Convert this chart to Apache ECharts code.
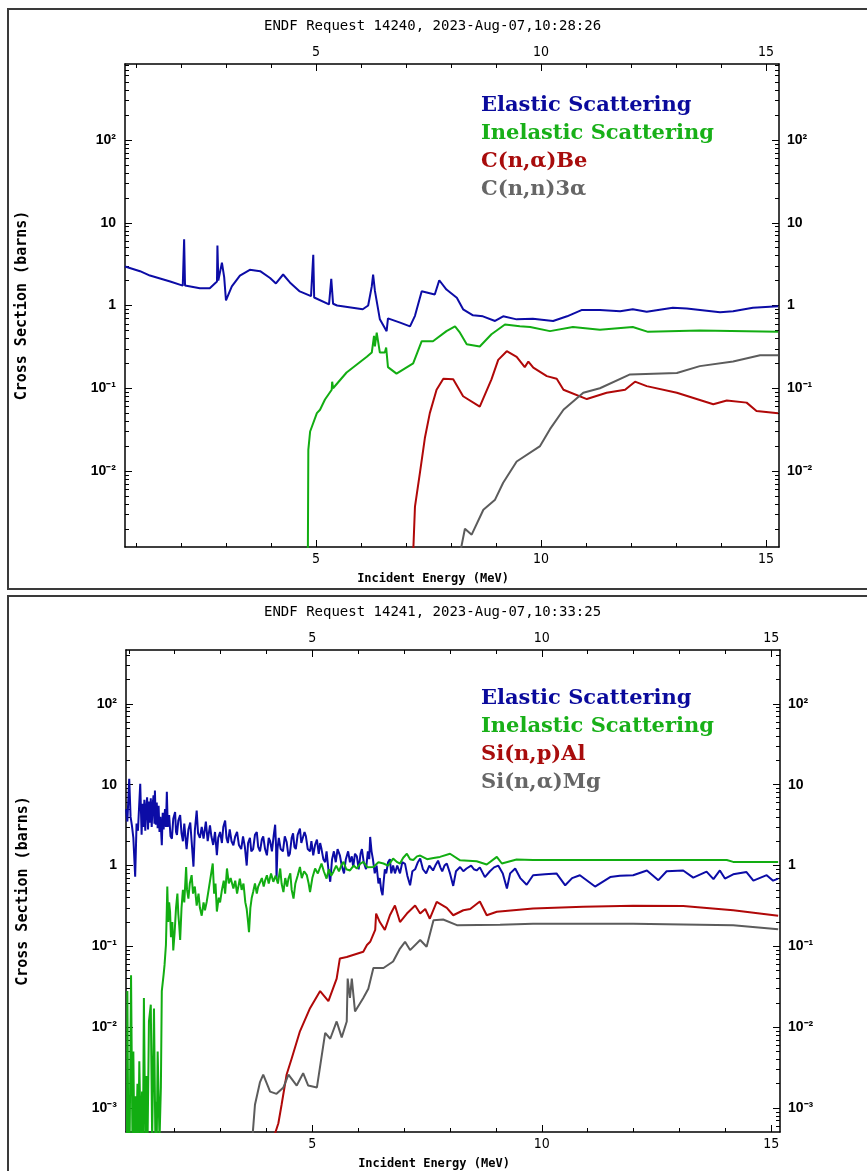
<!DOCTYPE html>
<html><head><meta charset="utf-8">
<script src="https://cdn.jsdelivr.net/npm/echarts@6/dist/echarts.min.js"></script>
<style>html,body{margin:0;padding:0;background:#fff}#c{width:867px;height:1171px}</style>
</head><body><div id="c"></div><script>
// ---------- Panel 1 : Carbon (ENDF Request 14240) ----------
const p1Title = 'ENDF Request 14240, 2023-Aug-07,10:28:26';
const p1Names = ['Elastic Scattering', 'Inelastic Scattering', 'C(n,α)Be', 'C(n,n)3α'];
const p1Elastic = [[0.756,2.96],[1.09,2.6],[1.31,2.3],[1.76,1.95],[2.04,1.74],[2.07,6.3],[2.09,1.75],[2.42,1.62],[2.64,1.62],[2.80,1.95],[2.81,5.3],[2.83,2.0],[2.91,3.3],[2.96,2.2],[3.0,1.15],[3.13,1.7],[3.31,2.3],[3.53,2.7],[3.76,2.6],[3.98,2.15],[4.11,1.85],[4.27,2.37],[4.42,1.9],[4.64,1.48],[4.89,1.3],[4.93,1.25],[4.94,4.1],[4.96,1.25],[5.29,1.03],[5.33,1.0],[5.34,2.1],[5.38,1.05],[5.47,1.0],[6.04,0.9],[6.16,1.0],[6.24,1.7],[6.27,2.37],[6.31,1.5],[6.42,0.68],[6.57,0.49],[6.6,0.7],[6.64,0.72],[6.87,0.62],[7.09,0.56],[7.2,0.75],[7.35,1.49],[7.64,1.36],[7.74,2.02],[7.9,1.56],[8.13,1.24],[8.27,0.9],[8.49,0.76],[8.71,0.74],[8.98,0.65],[9.16,0.74],[9.46,0.68],[9.82,0.69],[10.27,0.65],[10.58,0.74],[10.9,0.88],[11.31,0.88],[11.76,0.85],[12.04,0.9],[12.35,0.84],[12.93,0.94],[13.24,0.92],[13.98,0.83],[14.27,0.85],[14.71,0.94],[15.27,0.98]];
const p1Inelastic = [[4.82,0.001],[4.83,0.018],[4.87,0.030],[5.02,0.050],[5.09,0.055],[5.2,0.073],[5.35,0.096],[5.36,0.12],[5.38,0.10],[5.68,0.155],[6.13,0.24],[6.24,0.27],[6.29,0.43],[6.31,0.32],[6.35,0.47],[6.42,0.27],[6.53,0.27],[6.56,0.31],[6.6,0.18],[6.79,0.15],[7.16,0.20],[7.35,0.37],[7.6,0.37],[7.9,0.49],[8.09,0.56],[8.2,0.47],[8.35,0.34],[8.64,0.32],[8.9,0.45],[9.2,0.59],[9.53,0.56],[9.76,0.55],[10.2,0.49],[10.71,0.55],[11.31,0.51],[12.04,0.55],[12.38,0.48],[13.53,0.50],[15.27,0.48]];
const p1NAlpha = [[7.16,0.001],[7.2,0.0037],[7.31,0.0095],[7.42,0.025],[7.53,0.050],[7.68,0.096],[7.83,0.13],[8.05,0.128],[8.27,0.080],[8.64,0.060],[8.9,0.128],[9.05,0.22],[9.24,0.28],[9.46,0.24],[9.64,0.18],[9.72,0.21],[9.83,0.177],[10.13,0.14],[10.35,0.13],[10.5,0.096],[11.02,0.074],[11.46,0.088],[11.87,0.096],[12.09,0.12],[12.35,0.106],[13.02,0.088],[13.83,0.064],[14.13,0.071],[14.57,0.067],[14.79,0.053],[15.27,0.050]];
const p1N3Alpha = [[8.2,0.001],[8.31,0.0020],[8.46,0.0017],[8.72,0.0034],[8.98,0.0045],[9.16,0.0072],[9.46,0.013],[9.98,0.020],[10.2,0.032],[10.5,0.055],[10.94,0.088],[11.31,0.10],[11.98,0.147],[13.02,0.153],[13.53,0.185],[14.27,0.21],[14.87,0.25],[15.27,0.25]];

// ---------- Panel 2 : Silicon (ENDF Request 14241) ----------
const p2Title = 'ENDF Request 14241, 2023-Aug-07,10:33:25';
const p2Names = ['Elastic Scattering', 'Inelastic Scattering', 'Si(n,p)Al', 'Si(n,α)Mg'];
const p2Elastic = [[0.94,5.0],[0.97,3.5],[1.01,11.8],[1.04,4.0],[1.07,3.1],[1.10,2.2],[1.14,0.73],[1.17,3.3],[1.20,2.7],[1.25,10.3],[1.28,2.4],[1.30,5.8],[1.32,3.0],[1.34,6.5],[1.36,2.7],[1.38,5.2],[1.40,7.0],[1.42,2.8],[1.44,6.2],[1.46,3.4],[1.48,6.8],[1.50,3.0],[1.52,5.6],[1.54,7.4],[1.56,3.3],[1.57,8.5],[1.59,3.2],[1.61,6.0],[1.63,2.9],[1.65,5.5],[1.67,2.6],[1.69,4.0],[1.72,1.78],[1.74,4.5],[1.76,2.8],[1.79,5.0],[1.81,3.0],[1.83,8.2],[1.85,3.0],[1.88,4.2],[1.91,2.3],[1.94,2.15],[1.97,3.8],[2.01,4.6],[2.03,2.6],[2.05,2.4],[2.08,3.6],[2.12,4.2],[2.15,2.5],[2.18,2.0],[2.21,3.3],[2.24,2.1],[2.26,1.6],[2.30,2.8],[2.34,3.4],[2.37,2.0],[2.41,0.97],[2.44,2.7],[2.48,4.8],[2.51,2.5],[2.55,2.2],[2.59,3.0],[2.63,2.15],[2.68,3.5],[2.72,2.0],[2.77,3.15],[2.80,2.3],[2.84,1.8],[2.88,2.6],[2.92,1.34],[2.95,2.2],[2.99,2.6],[3.03,1.9],[3.06,3.0],[3.10,3.6],[3.13,2.2],[3.16,1.9],[3.20,2.8],[3.24,2.0],[3.28,1.78],[3.32,2.3],[3.36,2.6],[3.40,1.8],[3.45,1.6],[3.49,2.3],[3.53,1.7],[3.57,1.0],[3.60,1.9],[3.64,2.2],[3.67,1.5],[3.71,1.6],[3.75,2.4],[3.79,2.6],[3.82,1.7],[3.86,1.5],[3.90,2.1],[3.93,2.3],[3.97,1.6],[4.01,1.34],[4.05,2.2],[4.08,2.0],[4.12,1.5],[4.16,2.4],[4.19,3.2],[4.21,1.7],[4.22,0.69],[4.24,1.6],[4.27,2.2],[4.31,1.6],[4.36,1.5],[4.40,2.3],[4.44,1.96],[4.48,1.3],[4.51,1.4],[4.55,2.2],[4.58,2.5],[4.61,1.7],[4.64,1.6],[4.68,2.4],[4.73,2.86],[4.76,1.9],[4.80,1.8],[4.83,2.6],[4.86,2.3],[4.90,1.6],[4.95,1.5],[4.98,2.0],[5.02,1.34],[5.06,1.8],[5.10,2.1],[5.14,1.4],[5.17,1.9],[5.20,1.6],[5.24,1.2],[5.28,1.1],[5.31,1.5],[5.35,0.9],[5.39,0.63],[5.43,1.2],[5.47,1.5],[5.51,1.1],[5.55,1.6],[5.60,1.34],[5.64,1.0],[5.69,0.8],[5.73,1.2],[5.78,1.5],[5.82,1.1],[5.86,1.3],[5.89,0.96],[5.93,1.4],[5.97,1.3],[6.01,0.9],[6.05,1.4],[6.08,1.6],[6.12,1.1],[6.17,0.9],[6.21,1.5],[6.24,1.2],[6.26,2.26],[6.29,1.5],[6.32,1.2],[6.36,0.8],[6.40,1.0],[6.44,0.6],[6.47,0.7],[6.50,0.5],[6.53,0.43],[6.55,0.6],[6.58,0.9],[6.61,0.8],[6.65,1.1],[6.69,1.2],[6.72,0.8],[6.76,1.0],[6.80,0.8],[6.85,1.0],[6.91,0.8],[6.96,1.1],[7.02,1.05],[7.07,0.75],[7.13,0.57],[7.18,0.85],[7.24,0.9],[7.30,1.1],[7.35,1.22],[7.41,0.9],[7.48,0.8],[7.55,1.0],[7.63,0.87],[7.68,1.0],[7.74,1.15],[7.79,0.95],[7.83,0.85],[7.88,1.0],[7.93,1.06],[8.0,0.8],[8.07,0.56],[8.13,0.85],[8.22,0.96],[8.29,0.85],[8.36,0.92],[8.46,1.0],[8.52,0.9],[8.58,0.87],[8.65,0.95],[8.76,0.72],[8.87,0.85],[8.96,0.95],[9.05,1.0],[9.15,0.8],[9.24,0.52],[9.31,0.8],[9.42,0.92],[9.53,0.7],[9.67,0.58],[9.81,0.76],[10.07,0.78],[10.32,0.80],[10.51,0.57],[10.66,0.7],[10.83,0.76],[11.16,0.55],[11.49,0.72],[11.7,0.75],[11.99,0.76],[12.29,0.87],[12.54,0.66],[12.72,0.85],[13.08,0.87],[13.30,0.71],[13.59,0.84],[13.74,0.68],[13.88,0.87],[13.99,0.69],[14.17,0.78],[14.46,0.83],[14.61,0.65],[14.90,0.76],[15.04,0.65],[15.15,0.69]];
const p2Inelastic = [[0.96,0.0003],[0.97,0.028],[0.99,0.0004],[1.01,0.0012],[1.02,0.0004],[1.05,0.044],[1.08,0.0004],[1.10,0.005],[1.12,0.0004],[1.14,0.0014],[1.16,0.0004],[1.19,0.002],[1.21,0.0004],[1.23,0.0038],[1.26,0.0004],[1.29,0.0016],[1.31,0.0004],[1.33,0.023],[1.36,0.0004],[1.39,0.0025],[1.41,0.0004],[1.44,0.0118],[1.48,0.019],[1.51,0.0004],[1.55,0.017],[1.58,0.0004],[1.60,0.0012],[1.61,0.0004],[1.63,0.005],[1.67,0.0004],[1.70,0.0018],[1.72,0.028],[1.76,0.045],[1.78,0.059],[1.81,0.104],[1.83,0.3],[1.84,0.55],[1.86,0.2],[1.88,0.35],[1.90,0.27],[1.92,0.13],[1.95,0.2],[1.97,0.089],[2.0,0.15],[2.03,0.3],[2.06,0.45],[2.08,0.25],[2.10,0.18],[2.12,0.12],[2.15,0.3],[2.18,0.5],[2.21,0.35],[2.25,0.96],[2.27,0.5],[2.30,0.39],[2.33,0.6],[2.37,0.76],[2.40,0.45],[2.44,0.55],[2.48,0.32],[2.52,0.45],[2.55,0.3],[2.59,0.24],[2.63,0.35],[2.66,0.28],[2.70,0.36],[2.74,0.5],[2.78,0.7],[2.83,1.06],[2.86,0.45],[2.89,0.6],[2.92,0.27],[2.96,0.4],[2.99,0.35],[3.03,0.50],[3.07,0.65],[3.10,0.45],[3.14,0.92],[3.18,0.6],[3.22,0.7],[3.28,0.52],[3.32,0.65],[3.36,0.45],[3.42,0.69],[3.46,0.5],[3.50,0.6],[3.54,0.35],[3.57,0.29],[3.60,0.2],[3.62,0.15],[3.65,0.3],[3.68,0.4],[3.71,0.47],[3.75,0.6],[3.79,0.45],[3.82,0.55],[3.86,0.52],[3.90,0.7],[3.94,0.55],[3.97,0.65],[4.01,0.76],[4.05,0.6],[4.10,0.8],[4.15,0.63],[4.20,0.75],[4.25,0.6],[4.30,0.92],[4.33,0.6],[4.37,0.47],[4.41,0.7],[4.45,0.55],[4.48,0.69],[4.52,0.8],[4.55,0.5],[4.59,0.39],[4.63,0.6],[4.68,0.75],[4.73,0.96],[4.77,0.7],[4.82,0.85],[4.88,0.76],[4.92,0.6],[4.95,0.47],[5.0,0.7],[5.06,0.92],[5.12,0.8],[5.20,1.06],[5.25,0.85],[5.31,0.69],[5.36,0.9],[5.41,0.75],[5.46,0.84],[5.52,1.0],[5.58,0.85],[5.63,1.0],[5.68,1.11],[5.74,0.9],[5.82,0.87],[5.9,1.0],[5.97,0.92],[6.04,1.05],[6.11,1.11],[6.2,0.95],[6.33,0.96],[6.44,1.1],[6.55,1.06],[6.65,1.0],[6.76,1.22],[6.85,1.1],[6.91,1.06],[6.98,1.25],[7.06,1.4],[7.13,1.2],[7.20,1.17],[7.28,1.3],[7.35,1.33],[7.5,1.2],[7.64,1.24],[7.78,1.28],[8.0,1.4],[8.22,1.16],[8.58,1.13],[8.80,1.03],[9.02,1.28],[9.13,1.06],[9.45,1.19],[9.81,1.17],[14.03,1.17],[14.17,1.11],[15.15,1.11]];
const p2NP = [[4.14,0.0004],[4.26,0.00065],[4.33,0.0011],[4.44,0.0026],[4.55,0.0041],[4.73,0.0089],[4.95,0.0172],[5.17,0.028],[5.35,0.021],[5.53,0.040],[5.60,0.071],[5.75,0.074],[6.11,0.086],[6.19,0.104],[6.26,0.114],[6.37,0.16],[6.39,0.255],[6.47,0.20],[6.58,0.16],[6.69,0.243],[6.80,0.32],[6.91,0.2],[7.06,0.255],[7.24,0.32],[7.35,0.255],[7.46,0.29],[7.56,0.22],[7.71,0.355],[7.93,0.3],[8.07,0.243],[8.29,0.28],[8.44,0.29],[8.65,0.36],[8.80,0.243],[9.02,0.268],[9.81,0.295],[10.90,0.31],[11.99,0.318],[13.08,0.315],[14.17,0.28],[15.15,0.24]];
const p2NAlpha = [[3.69,0.0004],[3.75,0.0011],[3.86,0.0021],[3.93,0.0026],[4.08,0.0016],[4.22,0.0015],[4.37,0.0018],[4.48,0.0026],[4.66,0.0019],[4.80,0.0027],[4.91,0.0019],[5.10,0.0018],[5.28,0.0085],[5.39,0.0072],[5.53,0.0118],[5.64,0.0075],[5.75,0.0118],[5.77,0.040],[5.82,0.023],[5.86,0.04],[5.93,0.0157],[6.11,0.023],[6.22,0.030],[6.26,0.037],[6.33,0.054],[6.55,0.054],[6.76,0.065],[6.91,0.094],[7.02,0.114],[7.13,0.09],[7.35,0.12],[7.49,0.099],[7.64,0.21],[7.85,0.215],[8.15,0.183],[9.09,0.185],[9.81,0.19],[11.99,0.19],[14.17,0.183],[15.15,0.163]];

// ---------- axes / ticks ----------
const p1XRange = [0.756, 15.29];
const p2XRange = [0.94, 15.19];
const p1YRange = [0.001205, 830];
const p2YRange = [0.000506, 464];
const xMajor = [5, 10, 15];
const xMinor = [1,2,3,4,5,6,7,8,9,10,11,12,13,14,15];
const p1YMajor = [0.01, 0.1, 1, 10, 100];
const p2YMajor = [0.001, 0.01, 0.1, 1, 10, 100];
const yLabelText = {'-3':'10⁻³','-2':'10⁻²','-1':'10⁻¹','0':'1','1':'10','2':'10²'};
const decades = [0.0001, 0.001, 0.01, 0.1, 1, 10, 100];
const minorMult = [2,3,4,5,6,7,8,9];
const yMinor = [];
decades.forEach(d => minorMult.forEach(m => yMinor.push(+(d*m).toPrecision(3))));

const colors = ['#0c0ca6', '#12ad12', '#b00808', '#5c5c5c'];
const legendColors = ['#0a0a9c', '#18b018', '#a80c0c', '#666666'];

const monoFont = '"DejaVu Sans Mono", monospace';
const narrowFont = '"DejaVu Sans Condensed", "DejaVu Sans Mono", sans-serif';

function xAx(grid, pos, range, ticks, len, labels, lineShow, name) {
  return {
    type: 'value', gridIndex: grid, position: pos, min: range[0], max: range[1],
    axisLine: { show: lineShow, onZero: false, lineStyle: { color: '#000', width: 1.5 } },
    axisTick: { show: true, inside: true, length: len, customValues: ticks, lineStyle: { color: '#000', width: 1 } },
    axisLabel: labels ? { show: true, customValues: labels, margin: 5, color: '#000', fontFamily: narrowFont, fontSize: 14,
      formatter: v => String(Math.round(v)) } : { show: false },
    splitLine: { show: false },
    name: name || '', nameLocation: 'middle', nameGap: 26,
    nameTextStyle: { fontFamily: monoFont, fontWeight: 'bold', fontSize: 12, color: '#000', padding: [0, 38, 0, 0] }
  };
}
function yAx(grid, pos, range, ticks, len, labels, lineShow, name) {
  return {
    type: 'log', logBase: 10, gridIndex: grid, position: pos, min: range[0], max: range[1],
    axisLine: { show: lineShow, onZero: false, lineStyle: { color: '#000', width: 1.5 } },
    axisTick: { show: true, inside: true, length: len, customValues: ticks, lineStyle: { color: '#000', width: 1 } },
    axisLabel: labels ? { show: true, customValues: labels, margin: pos === 'left' ? 9 : 8, color: '#000',
      fontFamily: '"Liberation Sans", Arial, sans-serif', fontWeight: 'bold', fontSize: 14,
      formatter: v => yLabelText[String(Math.round(Math.log10(v)))] || '' } : { show: false },
    splitLine: { show: false },
    name: name || '', nameLocation: 'middle', nameGap: 95,
    nameTextStyle: { fontFamily: monoFont, fontWeight: 'bold', fontSize: 15, color: '#000' }
  };
}

const xAxes = [], yAxes = [];
[[p1XRange, p1YRange, p1YMajor], [p2XRange, p2YRange, p2YMajor]].forEach((cfg, g) => {
  const [xr, yr, ym] = cfg;
  xAxes.push(xAx(g, 'bottom', xr, xMajor, 7, xMajor, true, 'Incident Energy (MeV)'));
  xAxes.push(xAx(g, 'bottom', xr, xMinor, 4, null, false));
  xAxes.push(xAx(g, 'top', xr, xMajor, 7, xMajor, true));
  xAxes.push(xAx(g, 'top', xr, xMinor, 4, null, false));
  yAxes.push(yAx(g, 'left', yr, ym, 7, ym, true, 'Cross Section (barns)'));
  yAxes.push(yAx(g, 'left', yr, yMinor, 4, null, false));
  yAxes.push(yAx(g, 'right', yr, ym, 7, ym, true));
  yAxes.push(yAx(g, 'right', yr, yMinor, 4, null, false));
});

function line(name, data, idx, g) {
  return { type: 'line', name, data, xAxisIndex: g*4, yAxisIndex: g*4, showSymbol: false, symbol: 'none',
    clip: true, animation: false, silent: true,
    lineStyle: { color: colors[idx], width: 2 }, itemStyle: { color: colors[idx] } };
}
const series = [
  line(p1Names[0], p1Elastic, 0, 0), line(p1Names[1], p1Inelastic, 1, 0),
  line(p1Names[2], p1NAlpha, 2, 0), line(p1Names[3], p1N3Alpha, 3, 0),
  line(p2Names[0], p2Elastic, 0, 1), line(p2Names[1], p2Inelastic, 1, 1),
  line(p2Names[2], p2NP, 2, 1), line(p2Names[3], p2NAlpha, 3, 1)
];

function legend(names, top) {
  return { orient: 'vertical', left: 471, top, icon: 'none', itemWidth: 0, itemHeight: 10, itemGap: 0,
    selectedMode: false,
    textStyle: { fontFamily: '"DejaVu Serif", serif', fontWeight: 'bold', fontSize: 21, lineHeight: 28 },
    data: names.map((n, i) => ({ name: n, textStyle: { color: legendColors[i] } })) };
}

const titleStyle = { fontFamily: monoFont, fontWeight: 'normal', fontSize: 14, color: '#000' };
const chart = echarts.init(document.getElementById('c'), null, { renderer: 'canvas' });
chart.setOption({
  backgroundColor: '#fff',
  animation: false,
  title: [
    { text: p1Title, left: 259, top: 14, textStyle: titleStyle },
    { text: p2Title, left: 259, top: 600, textStyle: titleStyle }
  ],
  grid: [
    { left: 125, top: 64, width: 654, height: 483 },
    { left: 126, top: 650, width: 654, height: 483 }
  ],
  legend: [legend(p1Names, 87), legend(p2Names, 680)],
  xAxis: xAxes,
  yAxis: yAxes,
  series,
  graphic: [
    { type: 'rect', shape: { x: 8, y: 9, width: 880, height: 580 }, style: { fill: null, stroke: '#3a3a3a', lineWidth: 2 }, silent: true },
    { type: 'rect', shape: { x: 8, y: 596, width: 880, height: 600 }, style: { fill: null, stroke: '#3a3a3a', lineWidth: 2 }, silent: true }
  ]
});
</script></body></html>
